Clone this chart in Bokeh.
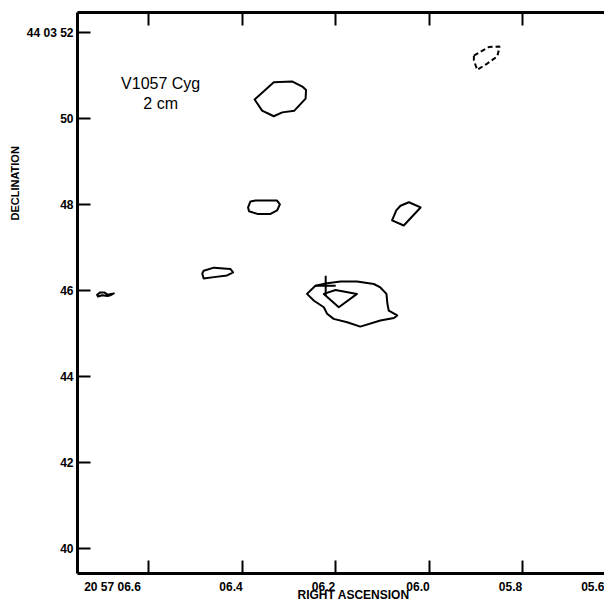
from bokeh.plotting import figure
from bokeh.models import FixedTicker, LinearAxis, Range1d, Label, Title
from bokeh.embed import file_html
from bokeh.resources import INLINE

# ---------------- data ----------------
# Right ascension in seconds of time past 20h 57m; declination in arcsec past +44 03'
ra_ticks = [6.6, 6.4, 6.2, 6.0, 5.8, 5.6]
ra_tick_labels = ["20 57 06.6", "06.4", "06.2", "06.0", "05.8", "05.6"]
dec_ticks = [40, 42, 44, 46, 48, 50, 52]
dec_tick_labels = ["40", "42", "44", "46", "48", "50", "44 03 52"]

# solid contours (closed)
c_top_ra = [6.373, 6.357, 6.332, 6.314, 6.288, 6.264, 6.263, 6.271, 6.293, 6.332]
c_top_dec = [50.45, 50.19, 50.06, 50.15, 50.19, 50.47, 50.67, 50.75, 50.87, 50.85]

c_mid_ra = [6.382, 6.371, 6.325, 6.319, 6.325, 6.339, 6.367, 6.385, 6.387]
c_mid_dec = [48.08, 48.10, 48.10, 48.01, 47.87, 47.79, 47.79, 47.85, 47.94]

c_east_ra = [6.061, 6.043, 6.018, 6.054, 6.079, 6.070]
c_east_dec = [47.98, 48.06, 47.94, 47.52, 47.64, 47.87]

c_low_ra = [6.482, 6.460, 6.425, 6.419, 6.432, 6.460, 6.482, 6.485]
c_low_dec = [46.47, 46.54, 46.51, 46.43, 46.36, 46.32, 46.29, 46.40]

c_main_ra = [6.261, 6.243, 6.218, 6.189, 6.154, 6.118, 6.104, 6.091, 6.089, 6.086,
             6.068, 6.075, 6.104, 6.147, 6.175, 6.204, 6.218, 6.225, 6.246]
c_main_dec = [45.93, 46.12, 46.18, 46.22, 46.22, 46.16, 46.08, 45.93, 45.70, 45.54,
              45.43, 45.37, 45.31, 45.17, 45.27, 45.35, 45.47, 45.62, 45.77]

c_inner_ra = [6.225, 6.200, 6.154, 6.193]
c_inner_dec = [45.93, 46.02, 45.93, 45.62]

c_edge_ra = [6.710, 6.704, 6.694, 6.687, 6.680, 6.674, 6.681, 6.688, 6.699, 6.708]
c_edge_dec = [45.91, 45.96, 45.96, 45.91, 45.93, 45.94, 45.90, 45.88, 45.90, 45.87]

# negative (dashed) contour
c_neg_ra = [5.904, 5.872, 5.849, 5.854, 5.876, 5.897, 5.904]
c_neg_dec = [51.47, 51.67, 51.68, 51.45, 51.28, 51.14, 51.36]

# optical star position
star_ra = [6.221]
star_dec = [46.12]

# ---------------- layout ----------------
FRAME_W, FRAME_H = 527, 561
x_start, x_end = 6.7519, 5.6246
y_start, y_end = 39.43, 52.472
px_per_s = FRAME_W / (x_start - x_end)

# tick labels sit right-aligned to their ticks: leftward shift in px
label_shift_px = [36, 11, 12, 11, 12, 12]
label_pos = [round(t + s / px_per_s, 5) for t, s in zip(ra_ticks, label_shift_px)]

p = figure(frame_width=FRAME_W, frame_height=FRAME_H,
           x_range=Range1d(x_start, x_end), y_range=Range1d(y_start, y_end),
           x_axis_location=None, y_axis_location=None,
           output_backend="svg", toolbar_location=None,
           min_border_left=77, min_border_right=0, min_border_top=12,
           min_border_bottom=29)
p.outline_line_color = None
p.background_fill_color = "white"
p.border_fill_color = "white"
p.xgrid.visible = False
p.ygrid.visible = False

FONT = "Liberation Sans"
AX_W = 3
TICK_W = 2
TICK_LEN = 13

# top axis: inward ticks only (minor ticks of an empty major ticker)
top_axis = LinearAxis(ticker=FixedTicker(ticks=[], minor_ticks=ra_ticks),
                      axis_line_width=AX_W, axis_line_color="black",
                      major_tick_line_color=None, major_tick_in=0, major_tick_out=0,
                      minor_tick_in=TICK_LEN, minor_tick_out=0,
                      minor_tick_line_width=TICK_W, minor_tick_line_color="black")
p.add_layout(top_axis, "above")

# bottom axis: inward ticks at RA values, labels right-aligned to them
bottom_axis = LinearAxis(ticker=FixedTicker(ticks=label_pos, minor_ticks=ra_ticks),
                         axis_line_width=AX_W, axis_line_color="black",
                         major_tick_line_color=None, major_tick_in=0, major_tick_out=0,
                         minor_tick_in=TICK_LEN, minor_tick_out=0,
                         minor_tick_line_width=TICK_W, minor_tick_line_color="black",
                         major_label_overrides={pos: txt for pos, txt in zip(label_pos, ra_tick_labels)},
                         major_label_text_font=FONT,
                         major_label_text_font_style="bold",
                         major_label_text_font_size="12px",
                         major_label_text_color="black",
                         major_label_standoff=6)
p.add_layout(bottom_axis, "below")

left_axis = LinearAxis(ticker=FixedTicker(ticks=dec_ticks),
                       axis_line_width=AX_W, axis_line_color="black",
                       major_tick_in=TICK_LEN, major_tick_out=0,
                       major_tick_line_width=TICK_W, major_tick_line_color="black",
                       minor_tick_line_color=None, minor_tick_out=0,
                       major_label_overrides={t: s for t, s in zip(dec_ticks, dec_tick_labels)},
                       major_label_text_font=FONT,
                       major_label_text_font_style="bold",
                       major_label_text_font_size="12px",
                       major_label_text_color="black",
                       major_label_standoff=4)
p.add_layout(left_axis, "left")

# axis titles, placed along the axis as in the original
p.add_layout(Title(text="RIGHT ASCENSION", align="left", offset=220,
                   vertical_align="top", standoff=-17,
                   text_font=FONT, text_font_style="bold", text_font_size="12px",
                   text_color="black"), "below")
p.add_layout(Title(text="DECLINATION", align="left", offset=353,
                   vertical_align="middle", standoff=4,
                   text_font=FONT, text_font_style="bold", text_font_size="11px",
                   text_color="black"), "left")

# ---------------- contours ----------------
solid_xs = [c_top_ra, c_mid_ra, c_east_ra, c_low_ra, c_main_ra, c_inner_ra, c_edge_ra]
solid_ys = [c_top_dec, c_mid_dec, c_east_dec, c_low_dec, c_main_dec, c_inner_dec, c_edge_dec]
p.patches(xs=solid_xs, ys=solid_ys, fill_color=None, line_color="black",
          line_width=2, line_join="round")
p.patches(xs=[c_neg_ra], ys=[c_neg_dec], fill_color=None, line_color="black",
          line_width=2, line_dash="5 3")
p.scatter(star_ra, star_dec, marker="cross", size=20, line_width=2,
          line_color="black")

# ---------------- source label ----------------
p.add_layout(Label(x=6.574, y=50.814, text="V1057 Cyg", text_align="center",
                   text_baseline="alphabetic", text_font=FONT,
                   text_font_size="16px", text_color="black"))
p.add_layout(Label(x=6.574, y=50.349, text="2 cm", text_align="center",
                   text_baseline="alphabetic", text_font=FONT,
                   text_font_size="16px", text_color="black"))

open("out.html", "w").write(file_html(p, INLINE))
